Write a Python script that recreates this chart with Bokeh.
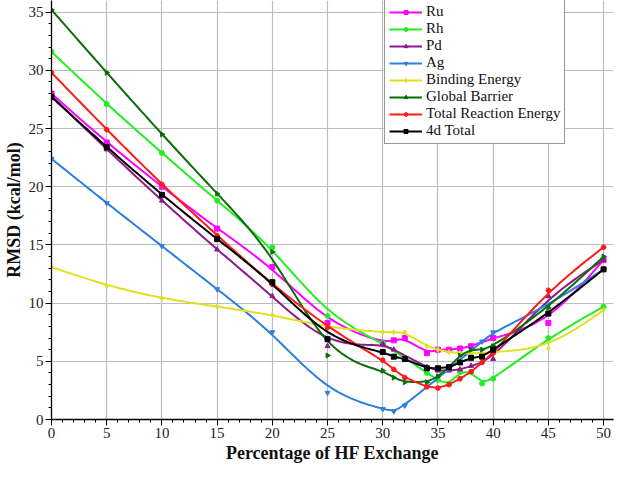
import numpy as np
from bokeh.plotting import figure
from bokeh.models import Legend, LegendItem, FixedTicker, Range1d
from bokeh.embed import file_html
from bokeh.resources import INLINE

# ---------------- data ----------------
series_names = ["Ru", "Rh", "Pd", "Ag", "Binding Energy", "Global Barrier",
                "Total Reaction Energy", "4d Total"]

ru_x = [0, 5, 10, 15, 20, 25, 30, 31, 32, 34, 35, 36, 37, 38, 40, 45, 50]
ru_y = [28.0, 23.8, 20.0, 16.4, 13.1, 8.3, 6.6, 6.8, 7.0, 5.7, 6.0, 6.0, 6.1, 6.3, 7.0, 8.3, 13.7]

rh_x = [0, 5, 10, 15, 20, 25, 30, 34, 35, 36, 37, 38, 39, 40, 45, 50]
rh_y = [31.6, 27.1, 22.9, 18.8, 14.8, 8.9, 6.6, 4.0, 3.4, 3.0, 4.1, 4.1, 3.1, 3.5, 7.0, 9.7]

pd_x = [0, 5, 10, 15, 20, 25, 30, 31, 34, 35, 36, 37, 38, 40, 45, 50]
pd_y = [27.8, 23.2, 18.8, 14.6, 10.6, 6.3, 6.5, 6.0, 4.5, 4.2, 4.2, 4.3, 4.6, 5.2, 10.6, 13.7]

ag_x = [0, 5, 10, 15, 20, 25, 30, 31, 32, 39, 40, 45, 50]
ag_y = [22.4, 18.6, 14.9, 11.2, 7.5, 2.3, 0.9, 0.7, 1.2, 6.7, 7.5, 9.8, 12.9]

be_x = [0, 5, 10, 15, 20, 25, 30, 31, 32, 34, 35, 36, 37, 38, 39, 40, 45, 50]
be_y = [13.1, 11.5, 10.4, 9.7, 9.0, 7.9, 7.5, 7.5, 7.5, 6.3, 6.0, 5.8, 5.7, 5.7, 5.7, 5.8, 6.1, 9.4]

gb_x = [0, 5, 10, 15, 20, 25, 30, 31, 32, 34, 35, 36, 37, 38, 39, 40, 45, 50]
gb_y = [35.2, 29.8, 24.5, 19.4, 14.4, 5.5, 4.2, 3.6, 3.2, 3.2, 3.7, 4.5, 5.5, 6.0, 6.0, 6.3, 9.6, 14.0]

tre_x = [0, 5, 10, 15, 20, 25, 30, 31, 32, 34, 35, 36, 37, 38, 39, 40, 45, 50]
tre_y = [29.8, 24.9, 20.2, 15.8, 11.6, 7.9, 5.1, 4.3, 3.6, 2.8, 2.7, 3.0, 3.5, 4.1, 4.9, 5.7, 11.1, 14.8]

tot_x = [0, 5, 10, 15, 20, 25, 30, 31, 32, 34, 35, 36, 37, 38, 39, 40, 45, 50]
tot_y = [27.7, 23.4, 19.3, 15.5, 11.8, 6.9, 5.8, 5.4, 5.2, 4.4, 4.4, 4.5, 4.9, 5.3, 5.4, 6.0, 9.1, 12.9]

x_ticks = [0, 5, 10, 15, 20, 25, 30, 35, 40, 45, 50]
y_ticks = [0, 5, 10, 15, 20, 25, 30, 35]

# ---------------- styling ----------------
colors = ["#ff00ff", "#22ee22", "#8b1a8b", "#2a7fe0", "#e0e020", "#0b6e0b", "#ff1a1a", "#000000"]
markers = ["square", "circle", "triangle", "inverted_triangle", "diamond", "triangle", "hex", "square"]
angles = [0, 0, 0, 0, 0, -np.pi / 2, 0, 0]
FONT = "'Liberation Serif', 'Times New Roman', serif"


def bspline(xs, ys, n=16):
    """Uniform cubic B-spline (Origin 'B-Spline' connection) with the data as control points."""
    P = np.column_stack([xs, ys]).astype(float)
    Q = np.vstack([P[0], P[0], P, P[-1], P[-1]])
    t = np.linspace(0, 1, n, endpoint=False)
    b0 = (1 - t) ** 3 / 6
    b1 = (3 * t ** 3 - 6 * t ** 2 + 4) / 6
    b2 = (-3 * t ** 3 + 3 * t ** 2 + 3 * t + 1) / 6
    b3 = t ** 3 / 6
    segs = []
    for i in range(len(Q) - 3):
        segs.append(np.outer(b0, Q[i]) + np.outer(b1, Q[i + 1]) +
                    np.outer(b2, Q[i + 2]) + np.outer(b3, Q[i + 3]))
    segs.append(P[-1][None, :])
    C = np.vstack(segs)
    return C[:, 0], C[:, 1]


p = figure(width=615, height=465, output_backend="svg", toolbar_location=None,
           x_range=Range1d(0, 50.9), y_range=Range1d(0, 36),
           min_border_left=43, min_border_right=2, min_border_top=0, min_border_bottom=44)
p.outline_line_color = None
p.background_fill_color = "white"

p.xaxis.ticker = FixedTicker(ticks=x_ticks, minor_ticks=list(range(0, 51)))
p.yaxis.ticker = FixedTicker(ticks=y_ticks, minor_ticks=list(range(0, 36)))
p.xgrid.ticker = FixedTicker(ticks=x_ticks)
p.ygrid.ticker = FixedTicker(ticks=y_ticks)
for g in (p.xgrid, p.ygrid):
    g.grid_line_color = "#bdbdbd"
    g.grid_line_width = 1.2

for ax in (p.xaxis, p.yaxis):
    ax.axis_line_color = "black"
    ax.axis_line_width = 1.3
    ax.major_tick_line_color = "black"
    ax.minor_tick_line_color = "black"
    ax.major_tick_in = 0
    ax.major_tick_out = 6
    ax.minor_tick_in = 0
    ax.minor_tick_out = 3
    ax.major_label_text_font = FONT
    ax.major_label_text_font_size = "15px"
    ax.major_label_text_color = "#222222"
    ax.axis_label_text_font = FONT
    ax.axis_label_text_font_size = "18px"
    ax.axis_label_text_font_style = "bold"
    ax.axis_label_text_color = "#111111"
    ax.major_label_standoff = 2
    ax.axis_label_standoff = 2

p.xaxis.axis_label = "Percentage of HF Exchange"
p.yaxis.axis_label = "RMSD (kcal/mol)"

all_x = [ru_x, rh_x, pd_x, ag_x, be_x, gb_x, tre_x, tot_x]
all_y = [ru_y, rh_y, pd_y, ag_y, be_y, gb_y, tre_y, tot_y]

items = []
for name, xs, ys, c, m, a in zip(series_names, all_x, all_y, colors, markers, angles):
    sx, sy = bspline(xs, ys)
    ln = p.line(sx, sy, line_color=c, line_width=2)
    sc = p.scatter(xs, ys, marker=m, size=5, fill_color=c, line_color=c, angle=a)
    items.append(LegendItem(label=name, renderers=[ln, sc]))

legend = Legend(items=items, location=(333, 275))
legend.label_text_font = FONT
legend.label_text_font_size = "15px"
legend.label_text_color = "#111111"
legend.glyph_width = 33
legend.glyph_height = 10
legend.label_height = 17
legend.spacing = 0
legend.padding = 4
legend.margin = 0
legend.label_standoff = 4
legend.border_line_color = "#333333"
legend.border_line_width = 1
legend.background_fill_color = "white"
legend.background_fill_alpha = 1.0
p.add_layout(legend)

open("out.html", "w").write(file_html(p, INLINE))
